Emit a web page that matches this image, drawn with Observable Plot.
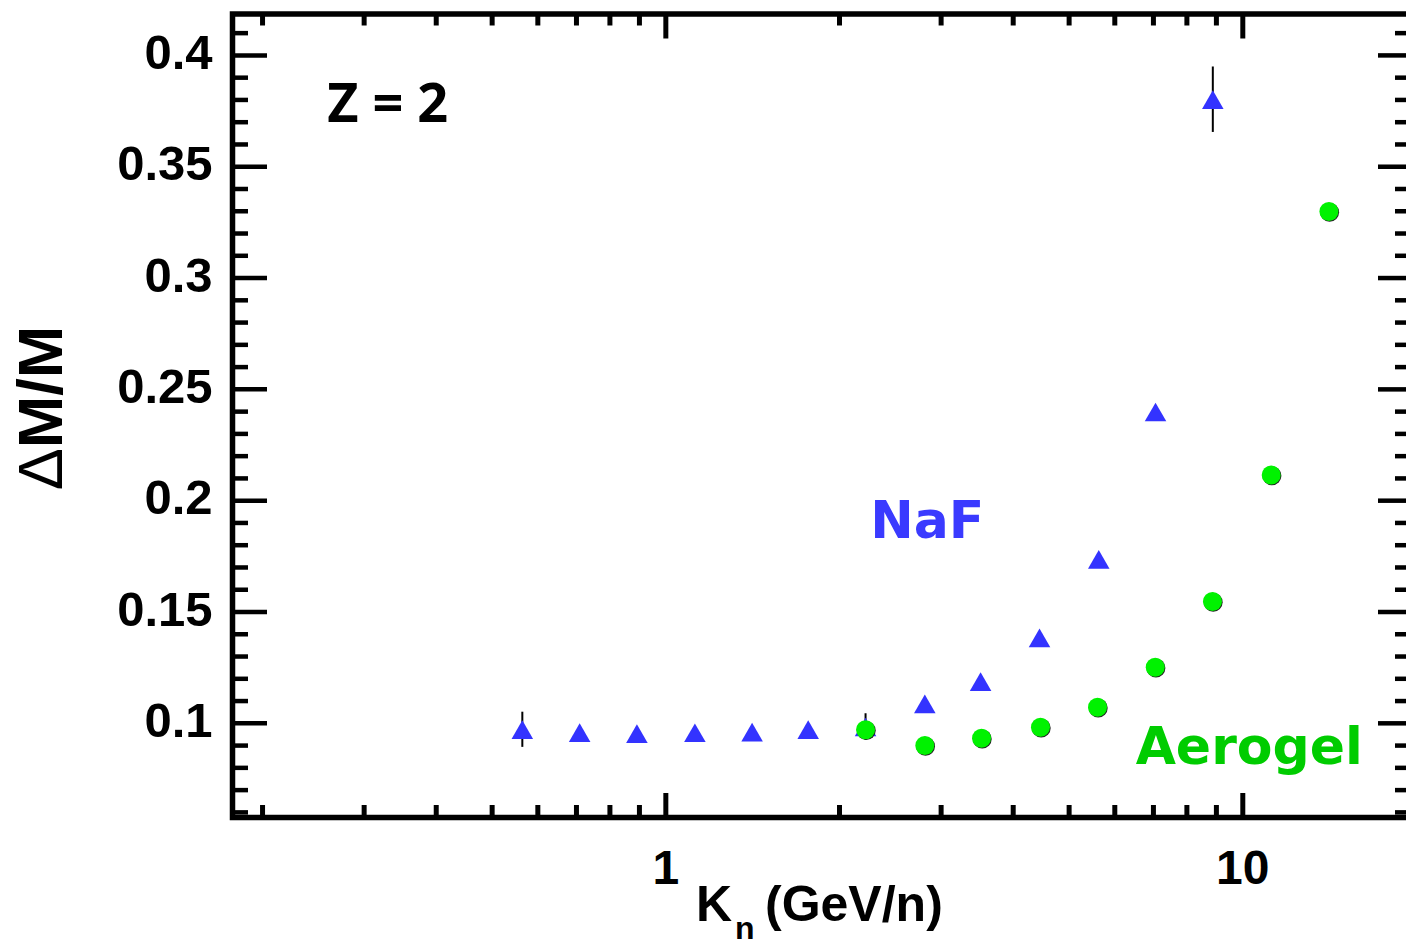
<!DOCTYPE html>
<html>
<head>
<meta charset="utf-8">
<script src="https://cdn.jsdelivr.net/npm/d3@7"></script>
<script src="https://cdn.jsdelivr.net/npm/@observablehq/plot@0.6"></script>
<style>
  html, body { margin: 0; padding: 0; background: #fff; overflow: hidden; }
  #chart svg { display: block; max-width: none !important; }
</style>
</head>
<body>
<div id="chart"></div>
<script>
// ---- data ----
const nafEnergy = [0.564, 0.709, 0.891, 1.123, 1.411, 1.765, 2.219, 2.811, 3.512, 4.443, 5.628, 7.059, 8.872];
const nafRes    = [0.0971, 0.0958, 0.0953, 0.0957, 0.0960, 0.0971, 0.0983, 0.1087, 0.1187, 0.1383, 0.1736, 0.2398, 0.3801];
const nafErr    = [0.0079, 0.002, 0.002, 0.002, 0.002, 0.002, 0.006, 0.002, 0.002, 0.002, 0.002, 0.003, 0.0147];
const aglEnergy = [2.219, 2.811, 3.525, 4.46, 5.60, 7.05, 8.86, 11.2, 14.1];
const aglRes    = [0.0971, 0.0900, 0.0933, 0.0982, 0.1072, 0.1252, 0.1547, 0.2115, 0.3299];

const xMajorTicks = [1, 10];
const xMinorTicks = [0.2, 0.3, 0.4, 0.5, 0.6, 0.7, 0.8, 0.9, 2, 3, 4, 5, 6, 7, 8, 9];
const yMajorTicks = [0.1, 0.15, 0.2, 0.25, 0.3, 0.35, 0.4];
const yMinorTicks = [0.06, 0.07, 0.08, 0.09, 0.11, 0.12, 0.13, 0.14, 0.16, 0.17, 0.18, 0.19,
                     0.21, 0.22, 0.23, 0.24, 0.26, 0.27, 0.28, 0.29, 0.31, 0.32, 0.33, 0.34,
                     0.36, 0.37, 0.38, 0.39, 0.41];
const xDomain = [0.1774, 19.45];
const yDomain = [0.0577, 0.4186];

const annotations = [
  {text: "Z = 2",   x: 0.2588, y: 0.370},
  {text: "NaF",     x: 2.26,   y: 0.1833},
  {text: "Aerogel", x: 6.52,   y: 0.0818}
];

// ---- build tables ----
const naf = nafEnergy.map((e, i) => ({e, r: nafRes[i], err: nafErr[i]}));
const agl = aglEnergy.map((e, i) => ({e, r: aglRes[i]}));

// ---- layout ----
const W = 1412, H = 951;
const mL = 232, mR = 3, mT = 13.5, mB = 134;
const fW = W - mL - mR, fH = H - mT - mB;

const plot = Plot.plot({
  width: W, height: H,
  marginLeft: mL, marginRight: mR, marginTop: mT, marginBottom: mB,
  style: {fontFamily: "'Liberation Sans', Arial, sans-serif", background: "#fff", maxWidth: "none"},
  x: {type: "log", domain: xDomain, label: null},
  y: {type: "linear", domain: yDomain, label: null},
  marks: [
    // tick labels
    Plot.axisX({ticks: xMajorTicks, tickFormat: d => String(d), tickSize: 0, tickPadding: 32,
                fontSize: 48, fontWeight: "bold", fill: "black", label: null}),
    Plot.axisY({ticks: yMajorTicks, tickFormat: d => String(d), tickSize: 0, tickPadding: 20,
                fontSize: 49, fontWeight: "bold", fill: "black", dy: -2, label: null}),
    // inward ticks: bottom / top
    Plot.tickX(xMinorTicks, {x: d => d, insetTop: fH - 12, stroke: "black", strokeWidth: 5}),
    Plot.tickX(xMajorTicks, {x: d => d, insetTop: fH - 24, stroke: "black", strokeWidth: 5}),
    Plot.tickX(xMinorTicks, {x: d => d, insetBottom: fH - 12, stroke: "black", strokeWidth: 5}),
    Plot.tickX(xMajorTicks, {x: d => d, insetBottom: fH - 25, stroke: "black", strokeWidth: 5}),
    // inward ticks: left / right
    Plot.tickY(yMinorTicks, {y: d => d, insetRight: fW - 16, stroke: "black", strokeWidth: 4.5}),
    Plot.tickY(yMajorTicks, {y: d => d, insetRight: fW - 35, stroke: "black", strokeWidth: 4.5}),
    Plot.tickY(yMinorTicks, {y: d => d, insetLeft: fW - 14, stroke: "black", strokeWidth: 4.5}),
    Plot.tickY(yMajorTicks, {y: d => d, insetLeft: fW - 31, stroke: "black", strokeWidth: 4.5}),
    // frame
    Plot.frame({stroke: "black", strokeWidth: 5.5}),
    // error bars
    Plot.ruleX(naf, {x: "e", y1: d => d.r - d.err, y2: d => d.r + d.err, stroke: "black", strokeWidth: 2}),
    // NaF triangles
    Plot.dot(naf, {x: "e", y: "r", symbol: "triangle", r: 8, fill: "#3333ff", stroke: null, dy: 3}),
    // Aerogel circles (slight dark edge like the original)
    Plot.dot(agl, {x: "e", y: "r", r: 9.5, fill: "#222", stroke: null, dx: 0.7, dy: 0.7}),
    Plot.dot(agl, {x: "e", y: "r", r: 9.5, fill: "#00f200", stroke: null}),
    // annotations
    Plot.text(annotations.slice(0, 1), {x: "x", y: "y", text: "text", textAnchor: "start", lineAnchor: "bottom",
      fontFamily: "'Open Sans', sans-serif", fontWeight: "bold", fontSize: 54, fill: "black"}),
    Plot.text(annotations.slice(1, 2), {x: "x", y: "y", text: "text", textAnchor: "start", lineAnchor: "bottom",
      fontFamily: "'DejaVu Sans', sans-serif", fontWeight: "bold", fontSize: 52, fill: "#3a3aff"}),
    Plot.text(annotations.slice(2, 3), {x: "x", y: "y", text: "text", textAnchor: "start", lineAnchor: "bottom",
      fontFamily: "'DejaVu Sans', sans-serif", fontWeight: "bold", fontSize: 52, fill: "#00cc00"})
  ]
});

document.getElementById("chart").appendChild(plot);

// ---- axis titles (with subscript / Greek letter) ----
const svg = d3.select(plot);
const xt = svg.append("text")
  .attr("x", mL + 464).attr("y", H - mB + 104)
  .attr("text-anchor", "start")
  .attr("font-family", "'Liberation Sans', Arial, sans-serif")
  .attr("font-weight", "bold").attr("font-size", 50).attr("fill", "black");
xt.append("tspan").text("K");
xt.append("tspan").attr("font-size", 32).attr("dy", 18).attr("dx", 3).text("n");
xt.append("tspan").attr("dy", -18).attr("x", mL + 533).text("(GeV/n)");

const yt = svg.append("text")
  .attr("transform", `translate(62, 408) rotate(-90)`)
  .attr("text-anchor", "middle")
  .attr("font-family", "'Liberation Sans', Arial, sans-serif")
  .attr("font-weight", "bold").attr("font-size", 63).attr("fill", "black");
yt.append("tspan").attr("font-weight", "normal").text("\u0394");
yt.append("tspan").text("M/M");
</script>
</body>
</html>
